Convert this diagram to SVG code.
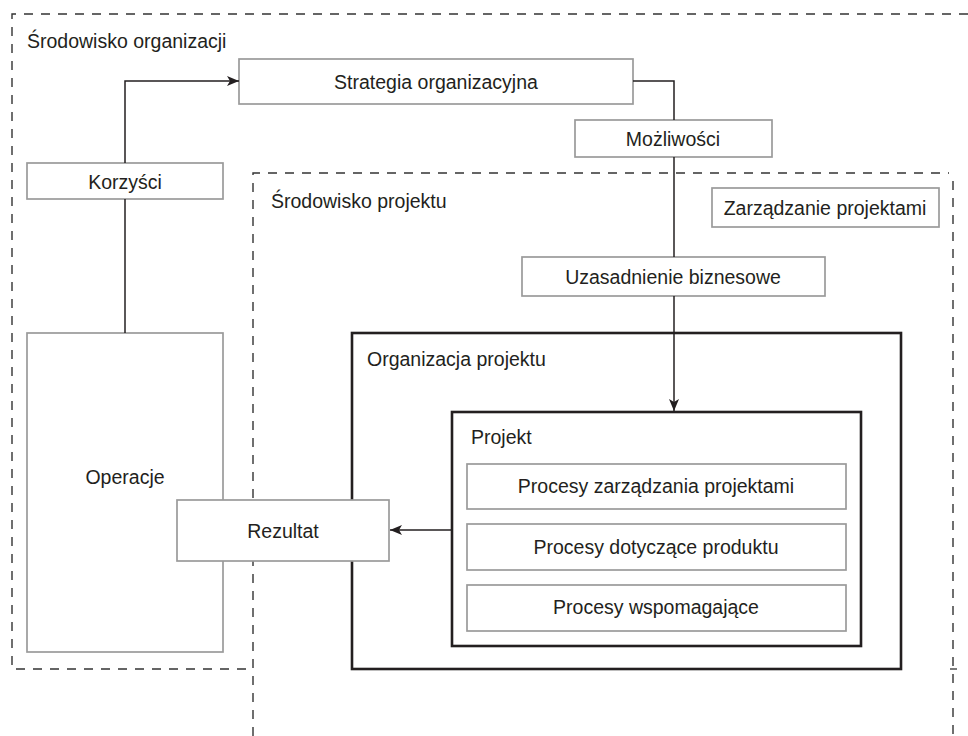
<svg xmlns="http://www.w3.org/2000/svg" width="968" height="736" viewBox="0 0 968 736">
<defs>
<style>
.env{fill:none;stroke:#333;stroke-width:1.4;stroke-dasharray:9 8}
.box{fill:#fff;stroke:#9a9a9a;stroke-width:1.7}
.thick{fill:#fff;stroke:#231f20;stroke-width:2.6}
.t{font-family:"Liberation Sans",Arial,sans-serif;font-size:19.5px;fill:#231f20}
.c{text-anchor:middle}
.con{fill:none;stroke:#231f20;stroke-width:1.5}
</style>
<marker id="arr" viewBox="0 0 12 10" refX="12" refY="5" markerWidth="12" markerHeight="10" markerUnits="userSpaceOnUse" orient="auto">
<path d="M0,0 L12,5 L0,10 L3,5 Z" fill="#231f20"/>
</marker>
</defs>
<rect width="968" height="736" fill="#fff"/>
<g id="org-env">
<path class="env" d="M968,14 H12 V669 H253"/>
<path d="M950,669 H957" stroke="#333" stroke-width="1.3"/>
<text class="t" x="27" y="48">Środowisko organizacji</text>
</g>
<g id="proj-env">
<path class="env" d="M253,736 V173 H949"/>
<path class="env" d="M953,181 V736"/>
<text class="t" x="271" y="208">Środowisko projektu</text>
</g>
<g id="strategia">
<rect class="box" x="239" y="59" width="394" height="45"/>
<text class="t c" x="436" y="89">Strategia organizacyjna</text>
</g>
<g id="korzysci">
<rect class="box" x="27" y="163" width="196" height="36"/>
<text class="t c" x="125" y="189">Korzyści</text>
</g>
<g id="mozliwosci">
<rect class="box" x="575" y="120" width="197" height="37"/>
<text class="t c" x="673" y="146">Możliwości</text>
</g>
<g id="zarzadzanie">
<rect class="box" x="712" y="188" width="227" height="39"/>
<text class="t c" x="825" y="215">Zarządzanie projektami</text>
</g>
<g id="uzasadnienie">
<rect class="box" x="522" y="257" width="303" height="39"/>
<text class="t c" x="673" y="284">Uzasadnienie biznesowe</text>
</g>
<g id="operacje">
<rect class="box" x="27" y="333" width="196" height="319"/>
<text class="t c" x="125" y="484">Operacje</text>
</g>
<g id="organizacja">
<rect class="thick" x="352" y="333" width="549" height="336"/>
<text class="t" x="367" y="366">Organizacja projektu</text>
</g>
<g id="projekt">
<rect class="thick" x="452" y="412" width="409" height="234"/>
<text class="t" x="471" y="444">Projekt</text>
</g>
<g id="proc1">
<rect class="box" x="467" y="464" width="379" height="45"/>
<text class="t c" x="656" y="493">Procesy zarządzania projektami</text>
</g>
<g id="proc2">
<rect class="box" x="467" y="524" width="379" height="46"/>
<text class="t c" x="656" y="554">Procesy dotyczące produktu</text>
</g>
<g id="proc3">
<rect class="box" x="467" y="585" width="379" height="46"/>
<text class="t c" x="656" y="614">Procesy wspomagające</text>
</g>
<g id="rezultat">
<rect class="box" x="177" y="500" width="212" height="61"/>
<text class="t c" x="283" y="538">Rezultat</text>
</g>
<g id="connectors">
<path class="con" d="M125,163 V81 H239" marker-end="url(#arr)"/>
<path class="con" d="M125,333 V199"/>
<path class="con" d="M633,81 H674 V120"/>
<path class="con" d="M674,157 V257"/>
<path class="con" d="M674,296 V411" marker-end="url(#arr)"/>
<path class="con" d="M451,530 H390" marker-end="url(#arr)"/>
</g>
</svg>
